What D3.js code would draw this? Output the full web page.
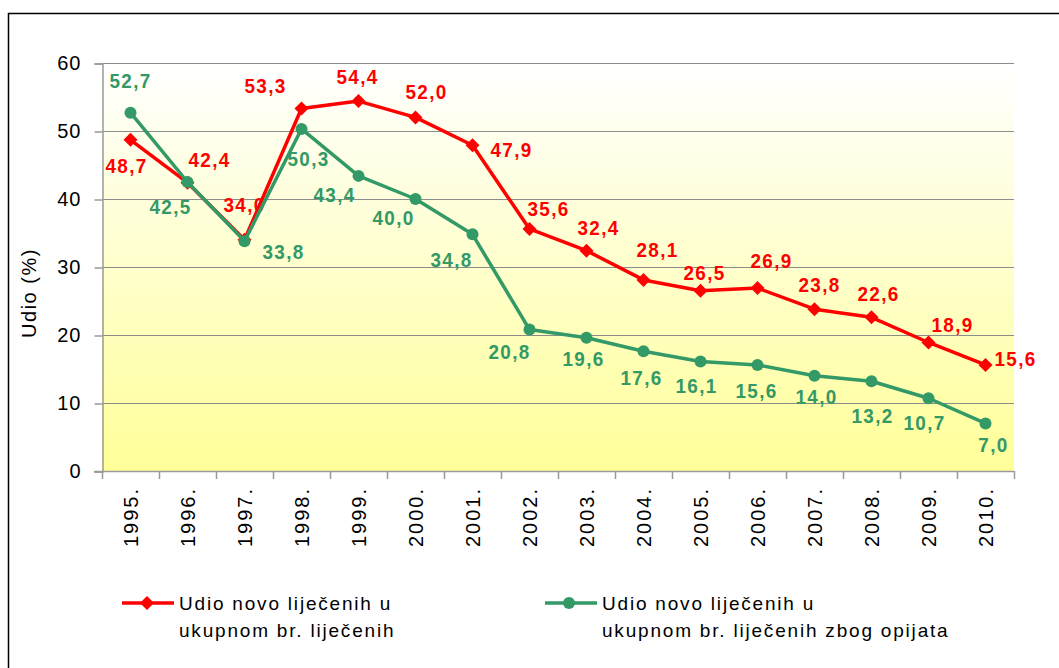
<!DOCTYPE html>
<html>
<head>
<meta charset="utf-8">
<script src="https://cdn.jsdelivr.net/npm/d3@7"></script>
<style>
  body { margin: 0; background: #fff; }
  svg { display: block; font-family: "Liberation Sans", Arial, sans-serif; }
</style>
</head>
<body>
<svg width="1059" height="668"></svg>
<script>
const years = ["1995.", "1996.", "1997.", "1998.", "1999.", "2000.", "2001.", "2002.",
               "2003.", "2004.", "2005.", "2006.", "2007.", "2008.", "2009.", "2010."]
const udioUkupno = [48.7, 42.4, 34.0, 53.3, 54.4, 52.0, 47.9, 35.6, 32.4, 28.1, 26.5, 26.9, 23.8, 22.6, 18.9, 15.6]
const udioOpijati = [52.7, 42.5, 33.8, 50.3, 43.4, 40.0, 34.8, 20.8, 19.6, 17.6, 16.1, 15.6, 14.0, 13.2, 10.7, 7.0]
const yTicks = [0, 10, 20, 30, 40, 50, 60]
const legendNames = [["Udio novo liječenih u", "ukupnom br. liječenih"],
                     ["Udio novo liječenih u", "ukupnom br. liječenih zbog opijata"]]

// label offsets (manually placed in the original chart)
const redDx = [-4, 22, 0, -36, -1, 11, 39, 19, 12, 14, 4, 14, 5, 7, 24, 30]
const redDy = [26, -23, -35, -23, -25, -26, 4, -20, -23, -30, -18, -28, -25, -24, -18, -6]
const greenDx = [0, -17, 39, 7, -24, -22, -21, -20, -3, -2, -4, -1, 2, 1, -4, 8]
const greenDy = [-32, 24, 10, 29, 19, 18, 25, 22, 21, 26, 24, 26, 21, 34, 24, 21]

const red = "#ff0000"
const green = "#339966"

let svg = d3.select("svg")

// outer frame
svg.append("rect")
   .attr("x", 8.5).attr("y", 13.5)
   .attr("width", 1070).attr("height", 700)
   .attr("fill", "none")
   .attr("stroke", "#000")
   .attr("stroke-width", 1.5)

let x = d3.scaleBand().domain(years).range([102, 1014])
let y = d3.scaleLinear().domain([0, 60]).range([471, 63])

let grad = svg.append("defs").append("linearGradient")
              .attr("id", "bg").attr("x1", 0).attr("y1", 0).attr("x2", 0).attr("y2", 1)
grad.append("stop").attr("offset", 0).attr("stop-color", "#ffffff")
grad.append("stop").attr("offset", 1).attr("stop-color", "#ffff99")

svg.append("rect")
   .attr("x", 102).attr("y", 63)
   .attr("width", 912).attr("height", 408)
   .attr("fill", "url(#bg)")

// gridlines
svg.append("g").selectAll("line")
   .data(yTicks.filter(d => d > 0))
   .enter()
   .append("line")
   .attr("x1", 102).attr("x2", 1014)
   .attr("y1", d => y(d) + 0.5).attr("y2", d => y(d) + 0.5)
   .attr("stroke", "#8c8c8c")
   .attr("stroke-width", 1.2)

// y axis
let yAxis = svg.append("g")
               .attr("transform", "translate(102.5,0.5)")
               .call(d3.axisLeft(y).tickValues(yTicks).tickSize(8).tickPadding(13).tickFormat(d => d))
yAxis.select(".domain").attr("stroke", "#9a9a9a").attr("stroke-width", 1.5)
yAxis.selectAll(".tick line").attr("stroke", "#9a9a9a").attr("stroke-width", 1.5)
yAxis.selectAll(".tick text")
     .attr("fill", "#000")
     .style("font-size", "20px")
     .style("letter-spacing", "1px")

// x axis
svg.append("line")
   .attr("x1", 94).attr("x2", 1014)
   .attr("y1", 471.5).attr("y2", 471.5)
   .attr("stroke", "#9a9a9a").attr("stroke-width", 1.5)

svg.append("g").selectAll("line")
   .data(years.map(d => x(d)).concat([x.range()[1]]))
   .enter()
   .append("line")
   .attr("x1", d => Math.round(d) + 0.5).attr("x2", d => Math.round(d) + 0.5)
   .attr("y1", 471).attr("y2", 479)
   .attr("stroke", "#9a9a9a").attr("stroke-width", 1.5)

svg.append("g").selectAll("text")
   .data(years)
   .enter()
   .append("text")
   .attr("transform", d => "translate(" + (x(d) + x.bandwidth() / 2 + 7) + ",487) rotate(-90)")
   .attr("text-anchor", "end")
   .style("font-size", "20px")
   .style("letter-spacing", "2px")
   .text(d => d)

svg.append("text")
   .attr("transform", "translate(36,293) rotate(-90)")
   .attr("text-anchor", "middle")
   .style("font-size", "20px")
   .style("letter-spacing", "1.5px")
   .text("Udio (%)")

// lines
let line = d3.line()
             .x((d, i) => x(years[i]) + x.bandwidth() / 2)
             .y(d => y(d))

let diamond = "M0,-7L7,0L0,7L-7,0Z"

function drawSeries(values, color, dxs, dys, isDiamond) {
  let g = svg.append("g")
  g.append("path")
   .datum(values)
   .attr("d", line)
   .attr("fill", "none")
   .attr("stroke", color)
   .attr("stroke-width", 3.5)
   .attr("stroke-linejoin", "round")

  let pts = g.selectAll(".pt")
             .data(values)
             .enter()
  if (isDiamond) {
    pts.append("path")
       .attr("d", diamond)
       .attr("transform", (d, i) => "translate(" + (x(years[i]) + x.bandwidth() / 2) + "," + y(d) + ")")
       .attr("fill", color)
  } else {
    pts.append("circle")
       .attr("cx", (d, i) => x(years[i]) + x.bandwidth() / 2)
       .attr("cy", d => y(d))
       .attr("r", 6)
       .attr("fill", color)
  }

  // slightly condensed, taller digits like the original
  g.selectAll(".lbl")
   .data(values)
   .enter()
   .append("text")
   .attr("transform", (d, i) => "translate(" + (x(years[i]) + x.bandwidth() / 2 + dxs[i]) + "," + (y(d) + dys[i]) + ") scale(0.9,1)")
   .attr("dy", "0.36em")
   .attr("text-anchor", "middle")
   .attr("fill", color)
   .style("font-size", "21px")
   .style("font-weight", "bold")
   .style("letter-spacing", "1.5px")
   .text(d => d3.format(".1f")(d).replace(".", ","))
}

drawSeries(udioUkupno, red, redDx, redDy, true)
drawSeries(udioOpijati, green, greenDx, greenDy, false)

// legend
let legendX = [122, 545]
let legendColors = [red, green]
legendNames.forEach((names, i) => {
  let lg = svg.append("g").attr("transform", "translate(" + legendX[i] + ",603)")
  lg.append("line")
    .attr("x1", 0).attr("x2", 52)
    .attr("stroke", legendColors[i]).attr("stroke-width", 3.5)
  if (i === 0) {
    lg.append("path").attr("d", diamond).attr("transform", "translate(25,0)").attr("fill", red)
  } else {
    lg.append("circle").attr("cx", 24).attr("r", 6).attr("fill", green)
  }
  lg.selectAll("text")
    .data(names)
    .enter()
    .append("text")
    .attr("x", 57)
    .attr("y", (d, j) => 7 + j * 27)
    .style("font-size", "19px")
    .style("letter-spacing", "1.8px")
    .text(d => d)
})
</script>
</body>
</html>
